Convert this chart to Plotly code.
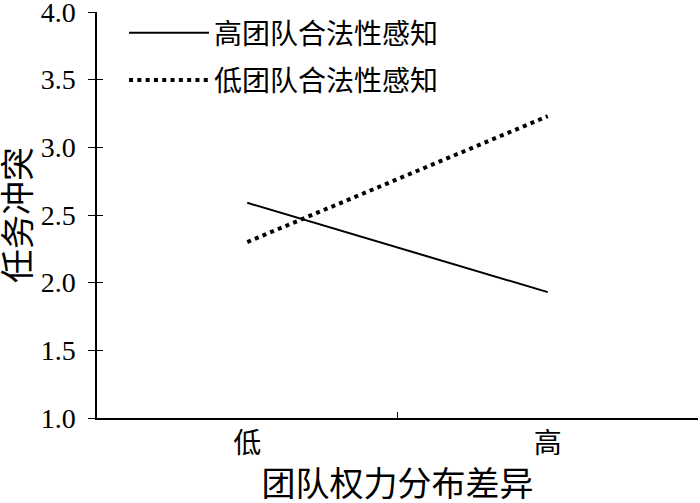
import plotly.graph_objects as go

# 团队权力分布差异 (x) vs 任务冲突 (y)
categories = ["低", "高"]
high_legit = [2.59, 1.93]   # 高团队合法性感知
low_legit = [2.30, 3.23]    # 低团队合法性感知
y_ticks = [1.0, 1.5, 2.0, 2.5, 3.0, 3.5, 4.0]

FONT = "Liberation Serif, Noto Sans CJK SC"

fig = go.Figure()

fig.add_trace(
    go.Scatter(
        x=categories,
        y=high_legit,
        mode="lines",
        name="高团队合法性感知",
        legendgroup="a",
        line={"color": "black", "width": 2},
    )
)

fig.add_trace(
    go.Scatter(
        x=categories,
        y=low_legit,
        mode="lines",
        name="低团队合法性感知",
        legendgroup="b",
        line={"color": "black", "width": 4, "dash": "4px,4.3px"},
        yaxis="y2",
    )
)

fig.update_layout(
    width=700,
    height=503,
    margin={"l": 97, "r": 2, "t": 12, "b": 85},
    paper_bgcolor="white",
    plot_bgcolor="white",
    font={"family": FONT, "size": 28, "color": "black"},
    showlegend=True,
    legend={
        "x": 0.045,
        "y": 1.01,
        "xanchor": "left",
        "yanchor": "top",
        "bgcolor": "rgba(0,0,0,0)",
        "itemwidth": 80,
        "tracegroupgap": 8,
        "font": {"size": 28},
    },
    xaxis={
        "type": "category",
        "range": [-0.5, 1.5],
        "automargin": False,
        "showline": True,
        "linecolor": "black",
        "linewidth": 1.5,
        "ticks": "inside",
        "tickson": "boundaries",
        "ticklen": 6,
        "tickcolor": "black",
        "showgrid": False,
        "zeroline": False,
        "title": {"text": "团队权力分布差异", "standoff": 22},
    },
    yaxis={
        "range": [1.0, 4.0],
        "tickvals": y_ticks,
        "tickformat": ".1f",
        "automargin": False,
        "ticklabeloverflow": "allow",
        "ticklabelstandoff": 7,
        "showline": True,
        "linecolor": "black",
        "linewidth": 1.5,
        "ticks": "outside",
        "ticklen": 7,
        "tickcolor": "black",
        "showgrid": False,
        "zeroline": False,
        "title": {"text": "任务冲突", "standoff": 16},
    },
    yaxis2={
        "range": [1.0, 4.0],
        "tickvals": y_ticks,
        "overlaying": "y",
        "side": "left",
        "automargin": False,
        "showticklabels": False,
        "ticks": "inside",
        "ticklen": 6,
        "tickcolor": "black",
        "showline": False,
        "showgrid": False,
        "zeroline": False,
    },
)

# drop the browser's default body margin so the figure sits at the window's corner
fig.write_html(
    "out.html",
    config={"displayModeBar": False},
    post_script="document.body.style.margin = '0px';",
)
